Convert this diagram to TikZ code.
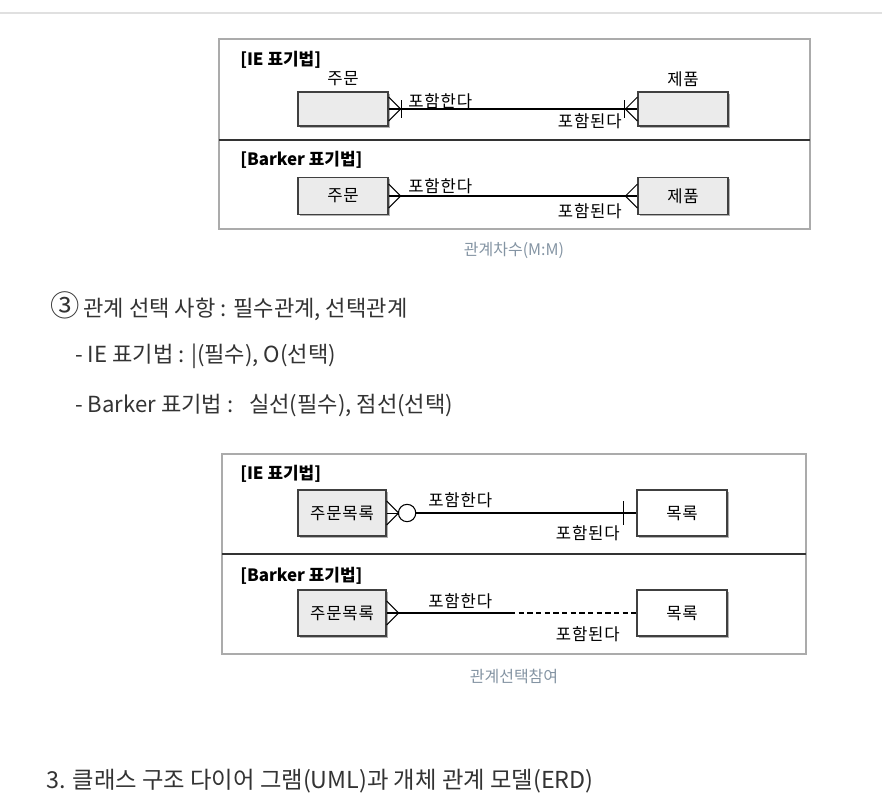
\documentclass[tikz,border=0pt]{standalone}
\usepackage{fontspec}
\setmainfont{Noto Sans CJK KR}
\newfontfamily\figfont[LetterSpace=5]{Noto Sans CJK KR}
\usetikzlibrary{calc, shadows}
\definecolor{webtext}{HTML}{333333}
\definecolor{captext}{HTML}{8494A3}
\definecolor{framegray}{HTML}{ABABAB}
\definecolor{boxfill}{HTML}{EBEBEB}

\begin{document}
\begin{tikzpicture}[x=0.75pt, y=-0.75pt,
    frame/.style={draw=framegray, line width=0.9pt},
    divider/.style={draw=black!80, line width=1pt},
    entity/.style={draw=black!75, line width=0.9pt, inner sep=0pt,
        minimum width=67.5pt, font=\figfont\fontsize{12.5}{14}\selectfont,
        drop shadow={shadow xshift=1.3pt, shadow yshift=-1.3pt, fill=black, opacity=0.3}},
    rel/.style={line width=1.1pt},
    foot/.style={line width=0.7pt},
    figtext/.style={anchor=west, inner sep=0pt, font=\figfont\fontsize{12.5}{14}\selectfont},
    notation/.style={anchor=west, inner sep=0pt, font=\bfseries\fontsize{12.7}{15}\selectfont},
    caption/.style={inner sep=0pt, text=captext, font=\fontsize{12}{14}\selectfont},
    body/.style={anchor=west, inner sep=0pt, text=webtext, font=\fontsize{16.6}{19}\selectfont}]

    \useasboundingbox (0,0) rectangle (882,797);
    \draw[black!12, line width=0.8pt] (0,13) -- (882,13);

    % --- figure 1 : degree M:M ---
    \draw[frame] (219,39) rectangle (810,229);
    \draw[divider] (219,140) -- (810,140);
    \node[notation] (ieA) at (240,60) {[IE 표기법]};
    \node[notation] (bkA) at (240,160) {[Barker 표기법]};

    \node[entity, fill=boxfill, minimum height=25.5pt] (ordA) at (343,109) {};
    \node[entity, fill=boxfill, minimum height=25.5pt] (prodA) at (683,109) {};
    \node[figtext, anchor=center] (ordAlbl) at (343,79) {주문};
    \node[figtext, anchor=center] (prodAlbl) at (683,79) {제품};

    \coordinate (ordAtip) at ($(ordA.east)+(12,0)$);
    \coordinate (prodAtip) at ($(prodA.west)+(-12,0)$);
    \draw[rel] (ordA.east) -- (prodA.west);
    \draw[foot] ($(ordA.east)+(0,-12)$) -- (ordAtip) -- ($(ordA.east)+(0,12)$);
    \draw[foot] ($(prodA.west)+(0,-12)$) -- (prodAtip) -- ($(prodA.west)+(0,12)$);
    \draw[foot] ($(ordA.east)+(13,-9)$) -- ($(ordA.east)+(13,9)$);
    \draw[foot] ($(prodA.west)+(-13,-9)$) -- ($(prodA.west)+(-13,9)$);
    \node[figtext] (incA) at (408,101) {포함한다};
    \node[figtext, anchor=east] (incdA) at (622,121) {포함된다};

    \node[entity, fill=boxfill, minimum height=27.5pt] (ordB) at (343,196) {주문};
    \node[entity, fill=boxfill, minimum height=27.5pt] (prodB) at (683,196) {제품};
    \coordinate (ordBtip) at ($(ordB.east)+(12,0)$);
    \coordinate (prodBtip) at ($(prodB.west)+(-12,0)$);
    \draw[rel] (ordB.east) -- (prodB.west);
    \draw[foot] ($(ordB.east)+(0,-12)$) -- (ordBtip) -- ($(ordB.east)+(0,12)$);
    \draw[foot] ($(prodB.west)+(0,-12)$) -- (prodBtip) -- ($(prodB.west)+(0,12)$);
    \node[figtext] (incB) at (408,186) {포함한다};
    \node[figtext, anchor=east] (incdB) at (622,211) {포함된다};

    \node[caption] (capA) at (514,250) {관계차수(M:M)};

    % --- text ---
    \node[body] (item3) at (50,306) {{\fontsize{22}{22}\selectfont ③}\hspace{3pt}관계 선택 사항 : 필수관계, 선택관계};
    \node[body] (ieline) at (75,356) {- IE 표기법 : |(필수), O(선택)};
    \node[body] (bkline) at (75,406) {- Barker 표기법 :\hspace{12pt}실선(필수), 점선(선택)};

    % --- figure 2 : optionality ---
    \draw[frame] (222,454) rectangle (806,654);
    \draw[divider] (222,554) -- (806,554);
    \node[notation] (ieC) at (240,474) {[IE 표기법]};
    \node[notation] (bkC) at (240,576) {[Barker 표기법]};

    \node[entity, fill=boxfill, minimum height=34.5pt, minimum width=66pt] (ordC) at (342,513) {주문목록};
    \node[entity, fill=white, minimum height=34.5pt] (listC) at (682,513) {목록};
    \coordinate (ordCtip) at ($(ordC.east)+(12,0)$);
    \node[draw, circle, line width=0.8pt, minimum size=13pt, inner sep=0pt] (optC) at ($(ordCtip)+(8.5,0)$) {};
    \draw[foot] (ordC.east) -- (ordCtip);
    \draw[foot] ($(ordC.east)+(0,-12)$) -- (ordCtip) -- ($(ordC.east)+(0,12)$);
    \draw[rel] (optC.east) -- (listC.west);
    \draw[foot] ($(listC.west)+(-13,-12)$) -- ($(listC.west)+(-13,12)$);
    \node[figtext] (incC) at (428,500) {포함한다};
    \node[figtext, anchor=east] (incdC) at (620,533) {포함된다};

    \node[entity, fill=boxfill, minimum height=34.5pt, minimum width=66pt] (ordD) at (342,613) {주문목록};
    \node[entity, fill=white, minimum height=34.5pt] (listD) at (682,613) {목록};
    \coordinate (ordDtip) at ($(ordD.east)+(12,0)$);
    \coordinate (midD) at (510,613);
    \draw[rel] (ordD.east) -- (midD);
    \draw[rel, dash pattern=on 4pt off 2.5pt] (midD) -- (listD.west);
    \draw[foot] ($(ordD.east)+(0,-12)$) -- (ordDtip) -- ($(ordD.east)+(0,12)$);
    \node[figtext] (incD) at (428,601) {포함한다};
    \node[figtext, anchor=east] (incdD) at (620,634) {포함된다};

    \node[caption] (capC) at (514,676) {관계선택참여};

    \node[body, font=\fontsize{17.5}{20}\selectfont] (sec3) at (46,781) {3. 클래스 구조 다이어 그램(UML)과 개체 관계 모델(ERD)};
\end{tikzpicture}
\end{document}
